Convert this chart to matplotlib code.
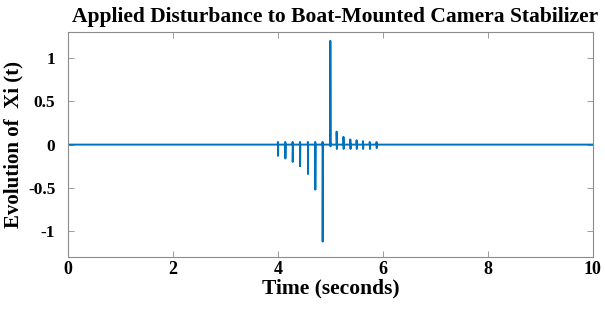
import numpy as np
import matplotlib.pyplot as plt

# disturbance data
neg_times = [4.0, 4.14, 4.28, 4.42, 4.57, 4.71, 4.85]
neg_amps = [-0.13, -0.16, -0.20, -0.25, -0.34, -0.52, -1.12]
pos_times = [5.0, 5.12, 5.25, 5.38, 5.5, 5.62, 5.75, 5.88]
pos_amps = [1.2, 0.15, 0.09, 0.06, 0.05, 0.04, 0.03, 0.03]
pos_dips = [-0.02, -0.05, -0.05, -0.05, -0.05, -0.05, -0.05, -0.04]
bump = 0.03
t_start, t_end = 0, 10

x_ticks = [0, 2, 4, 6, 8, 10]
y_ticks = [-1, -0.5, 0, 0.5, 1]
y_tick_labels = ['-1', '-0.5', '0', '0.5', '1']

def build_signal():
    """Builds the stepwise disturbance line"""
    t = [t_start]
    x = [0]
    eps = 0.004
    for ti, a in zip(neg_times, neg_amps):
        t += [ti, ti, ti + eps, ti + eps, ti + 2 * eps]
        x += [0, bump, bump, a, 0]
    for ti, a, d in zip(pos_times, pos_amps, pos_dips):
        t += [ti, ti, ti + eps, ti + eps, ti + 2 * eps]
        x += [0, a, 0, d, 0]
    t += [t_end]
    x += [0]
    return np.array(t), np.array(x)

plt.rcParams['font.family'] = ['Liberation Serif']
plt.rcParams['font.weight'] = 'bold'

fig = plt.figure(figsize=(6.05, 3.09), dpi=100)
ax = fig.add_axes([0.112, 0.168, 0.868, 0.728])

t, x = build_signal()
ax.plot(t, x, color='#0072BD', linewidth=1.4)

ax.set_xlim(t_start, t_end)
ax.set_ylim(-1.3, 1.3)
ax.set_xticks(x_ticks)
ax.set_yticks(y_ticks)
ax.set_yticklabels(y_tick_labels)
ax.tick_params(direction='in', top=True, right=True, length=4, width=0.6,
               color='#8c8c8c', labelsize=13)
ax.tick_params(axis='x', pad=3)
ax.tick_params(axis='y', labelsize=12.5, pad=9)
for lbl in ax.get_xticklabels() + ax.get_yticklabels():
    lbl.set_fontweight('bold')
for s in ax.spines.values():
    s.set_color('#8c8c8c')
    s.set_linewidth(0.8)

ax.set_xlabel('Time (seconds)', fontsize=15.5, fontweight='bold', labelpad=0)
ax.set_ylabel('Evolution of  Xi (t)', fontsize=15, fontweight='bold')
ax.yaxis.set_label_coords(-0.084, 0.5)
ax.set_title('Applied Disturbance to Boat-Mounted Camera Stabilizer',
             fontsize=15.5, fontweight='bold', pad=7, x=0.51)

fig.savefig('out.png', dpi=100)
